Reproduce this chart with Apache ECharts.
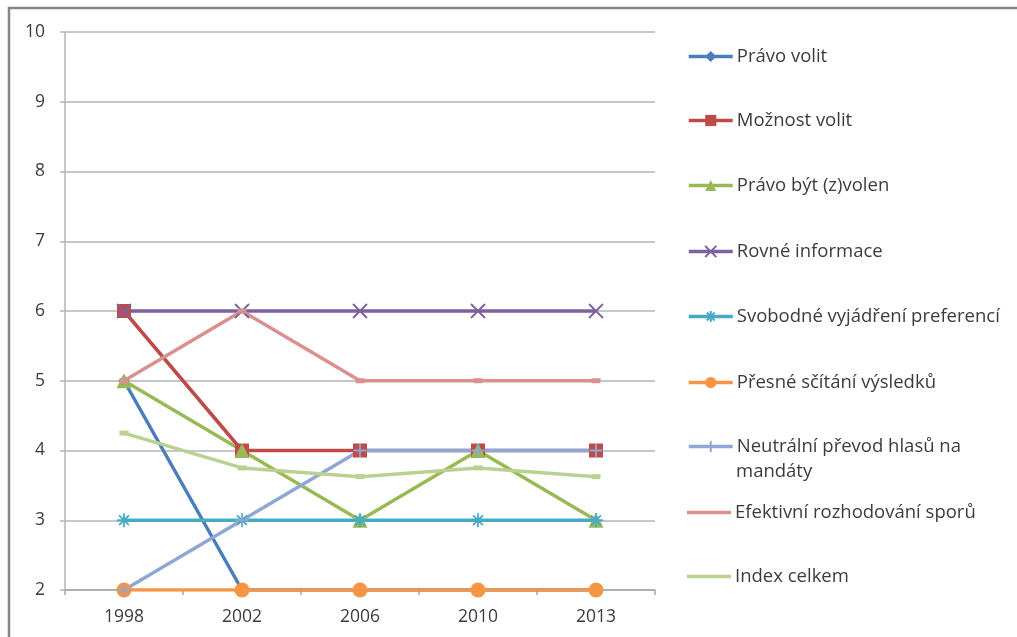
<!DOCTYPE html>
<html>
<head>
<meta charset="utf-8">
<script src="https://cdn.jsdelivr.net/npm/echarts@6/dist/echarts.min.js"></script>
<style>
  html, body { margin: 0; padding: 0; background: #ffffff; overflow: hidden; }
  #chart { width: 1017px; height: 637px; }
</style>
</head>
<body>
<div id="chart"></div>
<script>
// Election-quality indicators, scored per election year
const years = ['1998', '2002', '2006', '2010', '2013'];

const pravoVolit        = [5, 2, 2, 2, 2];
const moznostVolit      = [6, 4, 4, 4, 4];
const pravoBytZvolen    = [5, 4, 3, 4, 3];
const rovneInformace    = [6, 6, 6, 6, 6];
const svobodneVyjadreni = [3, 3, 3, 3, 3];
const presneScitani     = [2, 2, 2, 2, 2];
const neutralniPrevod   = [2, 3, 4, 4, 4];
const efektivniSpory    = [5, 6, 5, 5, 5];
const indexCelkem       = [4.25, 3.75, 3.625, 3.75, 3.625];

const yTicks = { min: 2, max: 10, step: 1 };

const FONT = '"Open Sans", Lato, sans-serif';
const TEXT = '#3C3C3C';
const FS = 17.5;
const LEGEND_FS = 18.5;

// stroked marker shapes
const X_PATH = 'path://M0,0L10,10M10,0L0,10';
const STAR_PATH = 'path://M5,0L5,10M0,5L10,5M1.5,1.5L8.5,8.5M8.5,1.5L1.5,8.5';
const PLUS_PATH = 'path://M5,0L5,10M0,5L10,5';

const defs = [
  { name: 'Právo volit', data: pravoVolit, color: '#4A7EBB', symbol: 'diamond', size: 11 },
  { name: 'Možnost volit', data: moznostVolit, color: '#BE4B48', symbol: 'rect', size: 14 },
  { name: 'Právo být (z)volen', data: pravoBytZvolen, color: '#98B954', symbol: 'triangle', size: 15 },
  { name: 'Rovné informace', data: rovneInformace, color: '#7D60A0', symbol: X_PATH, size: 14, stroke: true },
  { name: 'Svobodné vyjádření preferencí', data: svobodneVyjadreni, color: '#46AAC5', symbol: STAR_PATH, size: 14, stroke: true },
  { name: 'Přesné sčítání výsledků', data: presneScitani, color: '#F69544', symbol: 'circle', size: 15 },
  { name: 'Neutrální převod hlasů na mandáty', data: neutralniPrevod, color: '#8EA8D6', symbol: PLUS_PATH, size: 13, stroke: true },
  { name: 'Efektivní rozhodování sporů', data: efektivniSpory, color: '#D9908F', symbol: 'rect', size: [9, 5], plainLegend: true },
  { name: 'Index celkem', data: indexCelkem, color: '#BAD191', symbol: 'rect', size: [9, 5], plainLegend: true }
];

// vertical centres of the legend rows
const legendRows = [54, 118, 183, 249, 314, 380, 444, 510, 574];

const series = defs.map(d => ({
  name: d.name,
  type: 'line',
  data: d.data,
  color: d.color,
  symbol: d.symbol,
  symbolSize: d.size,
  showAllSymbol: true,
  animation: false,
  lineStyle: { width: 3.5, color: d.color },
  itemStyle: d.stroke
    ? { color: 'rgba(0,0,0,0)', borderColor: d.color, borderWidth: 1.8 }
    : { color: d.color, borderWidth: 0 },
  emphasis: { disabled: true }
}));

const legends = defs.map((d, i) => {
  const lg = {
    orient: 'vertical',
    left: 687,
    top: legendRows[i] - 7,
    padding: 0,
    itemWidth: 44,
    itemHeight: 14,
    itemGap: 0,
    selectedMode: false,
    data: [d.name],
    lineStyle: { width: 3.5 },
    textStyle: { fontFamily: FONT, fontSize: LEGEND_FS, color: TEXT, lineHeight: 14, padding: [0, 0, 0, -1] }
  };
  if (d.plainLegend) {
    lg.icon = 'rect';
    lg.itemHeight = 3.5;
  }
  if (i === 6) {
    lg.formatter = () => 'Neutrální převod hlasů na';
  }
  return lg;
});

const chart = echarts.init(document.getElementById('chart'), null, { renderer: 'canvas' });
chart.setOption({
  backgroundColor: '#ffffff',
  animation: false,
  grid: { left: 65, top: 32, width: 590, height: 558, containLabel: false },
  legend: legends,
  xAxis: {
    type: 'category',
    data: years,
    boundaryGap: true,
    axisLine: { show: true, lineStyle: { color: '#A8A8A8', width: 1.5 } },
    axisTick: { show: true, length: 5, alignWithLabel: false, lineStyle: { color: '#A8A8A8', width: 1.5 } },
    axisLabel: { margin: 18, fontFamily: FONT, fontSize: FS, color: TEXT },
    splitLine: { show: false }
  },
  yAxis: {
    type: 'value',
    min: yTicks.min,
    max: yTicks.max,
    interval: yTicks.step,
    axisLine: { show: true, lineStyle: { color: '#B5B5B5', width: 1.5 } },
    axisTick: { show: true, length: 5, lineStyle: { color: '#B5B5B5', width: 1.5 } },
    axisLabel: { margin: 20, fontFamily: FONT, fontSize: FS, color: TEXT },
    splitLine: { show: true, lineStyle: { color: '#B5B5B5', width: 1.5 } }
  },
  series: series,
  graphic: [
    {
      // chart frame: only the top and left edges fall inside the view
      type: 'polyline',
      shape: { points: [[9, 700], [9, 8], [1100, 8]] },
      style: { fill: 'none', stroke: '#858585', lineWidth: 2.5 },
      z: 100, silent: true
    },
    {
      type: 'text',
      x: 736, y: 472,
      style: { text: 'mandáty', font: LEGEND_FS + 'px ' + FONT, fill: TEXT, verticalAlign: 'middle' }
    }
  ]
});
</script>
</body>
</html>
